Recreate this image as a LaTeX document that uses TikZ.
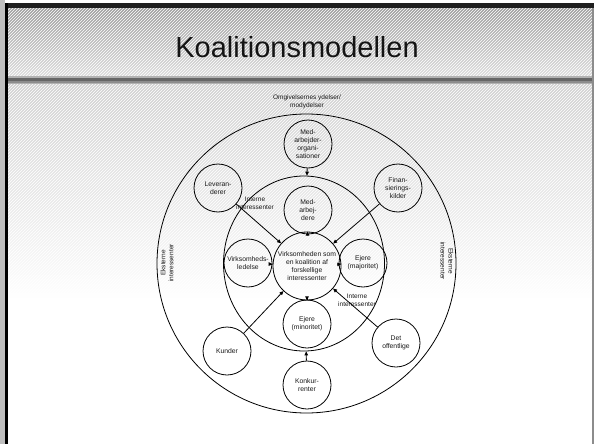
\documentclass[tikz,border=0pt]{standalone}
\usepackage{fontspec}
\setmainfont{Liberation Sans}
\usetikzlibrary{shapes.geometric,arrows.meta,patterns}
\begin{document}
\begin{tikzpicture}[x=1pt,y=-1pt,
  smallc/.style={circle,draw,line width=0.8pt,minimum size=48pt,inner sep=0pt,align=center,text=black!90,font=\fontsize{6.8}{8}\selectfont},
  centerc/.style={circle,draw,line width=0.8pt,minimum size=68pt,inner sep=0pt,align=center,text=black!90,font=\fontsize{6.8}{8}\selectfont},
  lbl/.style={align=center,text=black!90,inner sep=0pt,font=\fontsize{6.5}{8}\selectfont},
  arr/.style={-{Triangle[length=4pt,width=3.5pt]},line width=0.8pt}]
\useasboundingbox (0,0) rectangle (594,444);
% background
\fill[white] (0,0) rectangle (594,444);
\fill[black!25] (0,0) rectangle (5,444);
\shade[top color=black!18,bottom color=white] (7,84) rectangle (592,300);
\fill[pattern=north east lines,pattern color=white,fill opacity=0.15] (7,84) rectangle (592,300);
\shade[top color=black!38,bottom color=black!13] (7,8) rectangle (592,77);
\fill[pattern=north east lines,pattern color=white,fill opacity=0.2] (7,8) rectangle (592,77);
% band
\fill[black!30] (7,76) rectangle (594,84);
\fill[black!60] (7,78) rectangle (594,80.5);
\fill[black!45] (7,80.5) rectangle (594,83);
% frame
\fill[black!88] (5,3) rectangle (594,8);
\fill[black] (5,3) rectangle (7.5,444);
\draw[black!45,line width=1.5pt] (593,8) -- (593,444);
% title
\node[inner sep=0pt,font=\fontsize{29}{34}\selectfont,text=black!92] (title) at (297,47) {Koalitionsmodellen};
% diagram
\node[draw,circle,line width=0.8pt,minimum size=299pt,inner sep=0pt] (outer) at (306.5,263.5) {};
\node[draw,ellipse,line width=0.8pt,minimum width=161pt,minimum height=175pt,inner sep=0pt] (inner) at (304,263.5) {};
\node[lbl] (omg) at (307,101.5) {Omgivelsernes ydelser/\\modydelser};
\node[centerc] (ctr) at (307,266) {Virksomheden som\\en koalition af\\forskellige\\interessenter};
\node[smallc] (mao) at (308,144) {Med-\\arbejder-\\organi-\\sationer};
\node[smallc] (lev) at (218,188) {Leveran-\\derer};
\node[smallc] (fin) at (398,188) {Finan-\\sierings-\\kilder};
\node[smallc] (med) at (308,210) {Med-\\arbej-\\dere};
\node[smallc] (vl) at (248,263) {Virksomheds-\\ledelse};
\node[smallc] (ema) at (363,263) {Ejere\\(majoritet)};
\node[smallc] (emi) at (307,324) {Ejere\\(minoritet)};
\node[smallc] (kun) at (227,351) {Kunder};
\node[smallc] (off) at (396,343) {Det\\offentlige};
\node[smallc] (konk) at (307,385) {Konkur-\\renter};
\node[lbl] (int1) at (255,203) {Interne\\interessenter};
\node[lbl] (int2) at (357,300.5) {Interne\\interessenter};
\node[lbl,rotate=90] (ekst1) at (167,263) {Eksterne\\interessenter};
\node[lbl,rotate=-90] (ekst2) at (447,261) {Eksterne\\interessenter};
% arrows
\draw[arr] (mao) -- (inner);
\draw[arr] (konk) -- (inner);
\draw[arr] (lev) -- (ctr);
\draw[arr] (fin) -- (ctr);
\draw[arr] (med) -- (ctr);
\draw[arr] (vl) -- (ctr);
\draw[arr] (ema) -- (ctr);
\draw[arr] (emi) -- (ctr);
\draw[arr] (kun) -- (ctr);
\draw[arr] (off) -- (ctr);
\end{tikzpicture}
\end{document}
